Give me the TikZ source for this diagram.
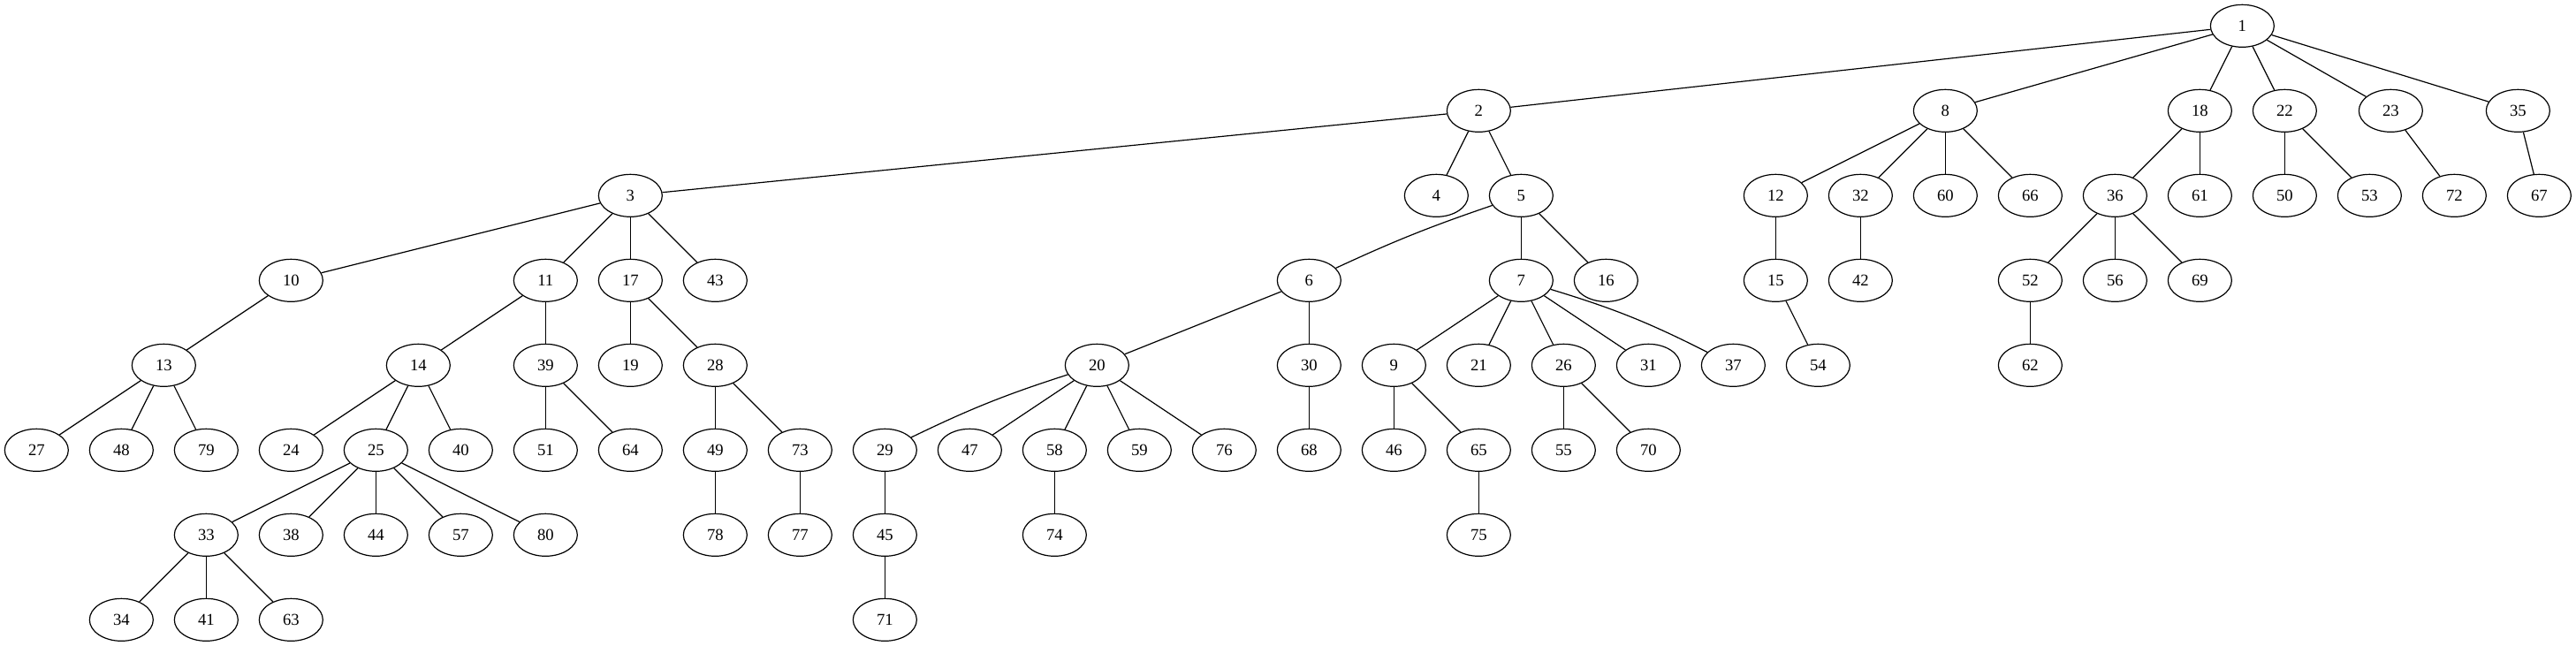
\documentclass[tikz,border=0pt]{standalone}
\usepackage{fontspec}
\setmainfont{Liberation Serif}
\usetikzlibrary{shapes.geometric}
\tikzset{
  nd/.style={draw, ellipse, minimum width=54pt, minimum height=36pt, inner sep=0pt, line width=0.9pt, font=\fontsize{14}{16}\selectfont},
  ed/.style={line width=0.9pt}
}
\begin{document}
\begin{tikzpicture}[x=1pt,y=1pt]
\useasboundingbox (0,0) rectangle (2186.25,548.25);
% row 0
\node[nd] (n1) at (1903,526.25) {1};
% row 1
\node[nd] (n2) at (1255,454.25) {2};
\node[nd] (n8) at (1651,454.25) {8};
\node[nd] (n18) at (1867,454.25) {18};
\node[nd] (n22) at (1939,454.25) {22};
\node[nd] (n23) at (2029,454.25) {23};
\node[nd] (n35) at (2137,454.25) {35};
% row 2
\node[nd] (n3) at (535,382.25) {3};
\node[nd] (n4) at (1219,382.25) {4};
\node[nd] (n5) at (1291,382.25) {5};
\node[nd] (n12) at (1507,382.25) {12};
\node[nd] (n32) at (1579,382.25) {32};
\node[nd] (n60) at (1651,382.25) {60};
\node[nd] (n66) at (1723,382.25) {66};
\node[nd] (n36) at (1795,382.25) {36};
\node[nd] (n61) at (1867,382.25) {61};
\node[nd] (n50) at (1939,382.25) {50};
\node[nd] (n53) at (2011,382.25) {53};
\node[nd] (n72) at (2083,382.25) {72};
\node[nd] (n67) at (2155,382.25) {67};
% row 3
\node[nd] (n10) at (247,310.25) {10};
\node[nd] (n11) at (463,310.25) {11};
\node[nd] (n17) at (535,310.25) {17};
\node[nd] (n43) at (607,310.25) {43};
\node[nd] (n6) at (1111,310.25) {6};
\node[nd] (n7) at (1291,310.25) {7};
\node[nd] (n16) at (1363,310.25) {16};
\node[nd] (n15) at (1507,310.25) {15};
\node[nd] (n42) at (1579,310.25) {42};
\node[nd] (n52) at (1723,310.25) {52};
\node[nd] (n56) at (1795,310.25) {56};
\node[nd] (n69) at (1867,310.25) {69};
% row 4
\node[nd] (n13) at (139,238.25) {13};
\node[nd] (n14) at (355,238.25) {14};
\node[nd] (n39) at (463,238.25) {39};
\node[nd] (n19) at (535,238.25) {19};
\node[nd] (n28) at (607,238.25) {28};
\node[nd] (n20) at (931,238.25) {20};
\node[nd] (n30) at (1111,238.25) {30};
\node[nd] (n9) at (1183,238.25) {9};
\node[nd] (n21) at (1255,238.25) {21};
\node[nd] (n26) at (1327,238.25) {26};
\node[nd] (n31) at (1399,238.25) {31};
\node[nd] (n37) at (1471,238.25) {37};
\node[nd] (n54) at (1543,238.25) {54};
\node[nd] (n62) at (1723,238.25) {62};
% row 5
\node[nd] (n27) at (31,166.25) {27};
\node[nd] (n48) at (103,166.25) {48};
\node[nd] (n79) at (175,166.25) {79};
\node[nd] (n24) at (247,166.25) {24};
\node[nd] (n25) at (319,166.25) {25};
\node[nd] (n40) at (391,166.25) {40};
\node[nd] (n51) at (463,166.25) {51};
\node[nd] (n64) at (535,166.25) {64};
\node[nd] (n49) at (607,166.25) {49};
\node[nd] (n73) at (679,166.25) {73};
\node[nd] (n29) at (751,166.25) {29};
\node[nd] (n47) at (823,166.25) {47};
\node[nd] (n58) at (895,166.25) {58};
\node[nd] (n59) at (967,166.25) {59};
\node[nd] (n76) at (1039,166.25) {76};
\node[nd] (n68) at (1111,166.25) {68};
\node[nd] (n46) at (1183,166.25) {46};
\node[nd] (n65) at (1255,166.25) {65};
\node[nd] (n55) at (1327,166.25) {55};
\node[nd] (n70) at (1399,166.25) {70};
% row 6
\node[nd] (n33) at (175,94.25) {33};
\node[nd] (n38) at (247,94.25) {38};
\node[nd] (n44) at (319,94.25) {44};
\node[nd] (n57) at (391,94.25) {57};
\node[nd] (n80) at (463,94.25) {80};
\node[nd] (n78) at (607,94.25) {78};
\node[nd] (n77) at (679,94.25) {77};
\node[nd] (n45) at (751,94.25) {45};
\node[nd] (n74) at (895,94.25) {74};
\node[nd] (n75) at (1255,94.25) {75};
% row 7
\node[nd] (n34) at (103,22.25) {34};
\node[nd] (n41) at (175,22.25) {41};
\node[nd] (n63) at (247,22.25) {63};
\node[nd] (n71) at (751,22.25) {71};
% edges
\foreach \a/\b in {1/2,1/8,1/18,1/22,1/23,1/35,
  2/3,2/4,2/5,
  3/10,3/11,3/17,3/43,
  5/7,5/16,
  8/12,8/32,8/60,8/66,
  18/36,18/61,22/50,22/53,23/72,35/67,
  10/13,11/14,11/39,17/19,17/28,
  6/20,6/30,
  7/9,7/21,7/26,7/31,
  12/15,32/42,
  36/52,36/56,36/69,
  13/27,13/48,13/79,
  14/24,14/25,14/40,
  39/51,39/64,28/49,28/73,
  20/47,20/58,20/59,20/76,
  30/68,9/46,9/65,26/55,26/70,15/54,52/62,
  25/33,25/38,25/44,25/57,25/80,
  49/78,73/77,29/45,58/74,65/75,
  33/34,33/41,33/63,45/71}
  \draw[ed] (n\a) -- (n\b);
\draw[ed] (n5) to[bend right=3] (n6);
\draw[ed] (n7) to[bend left=5] (n37);
\draw[ed] (n20) to[bend right=4] (n29);
\end{tikzpicture}
\end{document}
